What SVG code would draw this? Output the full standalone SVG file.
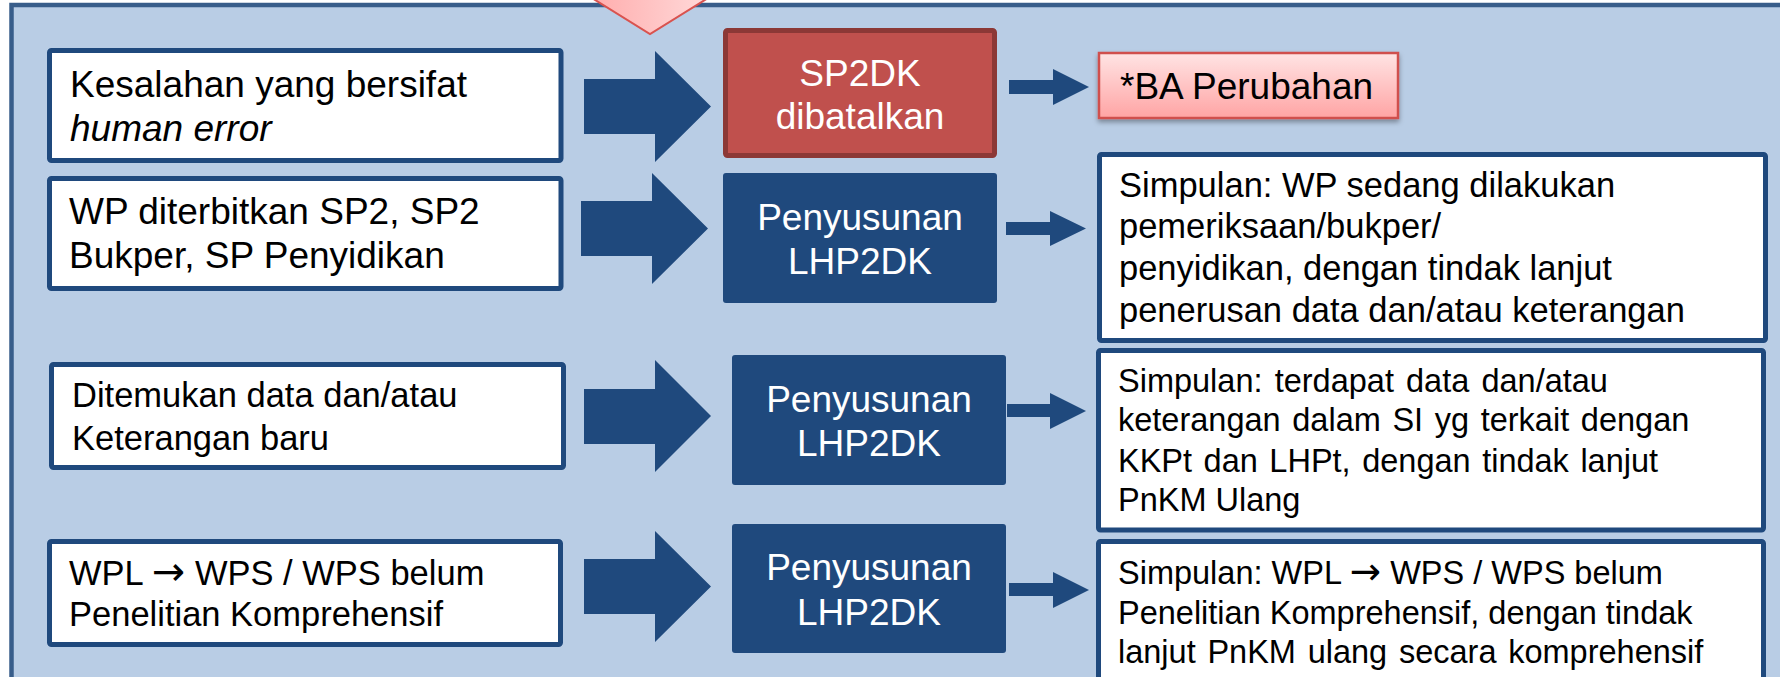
<svg xmlns="http://www.w3.org/2000/svg" width="1780" height="677" viewBox="0 0 1780 677">
  <defs>
    <linearGradient id="pinkV" x1="0" y1="0" x2="0" y2="1">
      <stop offset="0" stop-color="#ffe4e4"/>
      <stop offset="1" stop-color="#ffa4a4"/>
    </linearGradient>
    <linearGradient id="pinkH" x1="0" y1="0" x2="1" y2="0">
      <stop offset="0" stop-color="#ffa8a8"/>
      <stop offset="1" stop-color="#ffdede"/>
    </linearGradient>
    <filter id="shadow" x="-10%" y="-20%" width="120%" height="160%">
      <feDropShadow dx="0" dy="3" stdDeviation="2.5" flood-color="#000" flood-opacity="0.35"/>
    </filter>
  </defs>
  <style>
    .frame { fill: #b9cde5; stroke: #385d8a; stroke-width: 4.5; }
    .wbox { fill: #ffffff; stroke: #1f497d; stroke-width: 5; }
    .dbox { fill: #1f497d; }
    .rbox { fill: #c0504d; stroke: #8c3836; stroke-width: 5; }
    .pbox { fill: url(#pinkV); stroke: #d0504d; stroke-width: 2.5; }
    .arrow { fill: #1f497d; }
    text { font-family: "Liberation Sans", Arial, sans-serif; }
    .dark { fill: #000000; }
    .light { fill: #ffffff; text-anchor: middle; }
    .f37 { font-size: 37px; }
    .f345 { font-size: 34.5px; }
    .f325 { font-size: 32.5px; }
    .sym { font-family: "Noto Sans", "DejaVu Sans", sans-serif; font-size: 1.15em; }
  </style>

  <rect width="1780" height="677" fill="#ffffff"/>

  <!-- outer panel -->
  <rect class="frame" x="11.5" y="5" width="1820" height="720"/>

  <!-- incoming pointer from the step above -->
  <polygon points="579,-10 721,-10 650,34" fill="url(#pinkH)" stroke="#d9534f" stroke-width="2"/>

  <g id="connectors">
    <!-- block arrows: cause to action -->
    <path class="arrow" d="M584,79 H655 V51 L711,106.5 L655,162 V134 H584 Z"/>
    <path class="arrow" d="M581,201 H652 V173 L708,228.5 L652,284 V256 H581 Z"/>
    <path class="arrow" d="M584,389 H655 V360 L711,416 L655,472 V444 H584 Z"/>
    <path class="arrow" d="M584,559 H655 V531 L711,586.5 L655,642 V614 H584 Z"/>
    <!-- small arrows: action to result -->
    <path class="arrow" d="M1009,80 H1053 V69 L1089,87 L1053,105 V94 H1009 Z"/>
    <path class="arrow" d="M1006,222 H1050 V211 L1086,228.5 L1050,246 V235 H1006 Z"/>
    <path class="arrow" d="M1007,404 H1050 V393 L1086,411 L1050,429 V417 H1007 Z"/>
    <path class="arrow" d="M1009,583 H1053 V572 L1089,590 L1053,608 V596 H1009 Z"/>
  </g>

  <!-- causes -->
  <g id="cause-human-error">
    <rect class="wbox" x="49.5" y="50.5" width="511.5" height="110" rx="2"/>
    <text class="dark f37" x="70" y="97">Kesalahan yang bersifat</text>
    <text class="dark f37" x="70" y="141" font-style="italic">human error</text>
  </g>
  <g id="cause-sp2">
    <rect class="wbox" x="49.5" y="178.5" width="511.5" height="110" rx="2"/>
    <text class="dark f37" x="69" y="224">WP diterbitkan SP2, SP2</text>
    <text class="dark f37" x="69" y="268">Bukper, SP Penyidikan</text>
  </g>
  <g id="cause-new-data">
    <rect class="wbox" x="51.5" y="364.5" width="512" height="103" rx="2"/>
    <text class="dark f345" x="72" y="407">Ditemukan data dan/atau</text>
    <text class="dark f345" x="72" y="450">Keterangan baru</text>
  </g>
  <g id="cause-wpl">
    <rect class="wbox" x="49.5" y="541.5" width="511" height="103" rx="2"/>
    <text class="dark f345" x="69" y="585">WPL <tspan class="sym">→</tspan> WPS / WPS belum</text>
    <text class="dark f345" x="69" y="626">Penelitian Komprehensif</text>
  </g>

  <!-- actions -->
  <g id="action-cancel">
    <rect class="rbox" x="725.5" y="30.5" width="269" height="125" rx="2"/>
    <text class="light f37" x="860" y="86">SP2DK</text>
    <text class="light f37" x="860" y="129">dibatalkan</text>
  </g>
  <g id="action-lhp2dk-1">
    <rect class="dbox" x="723" y="173" width="274" height="130" rx="3"/>
    <text class="light f37" x="860" y="230">Penyusunan</text>
    <text class="light f37" x="860" y="274">LHP2DK</text>
  </g>
  <g id="action-lhp2dk-2">
    <rect class="dbox" x="732" y="355" width="274" height="130" rx="3"/>
    <text class="light f37" x="869" y="412">Penyusunan</text>
    <text class="light f37" x="869" y="456">LHP2DK</text>
  </g>
  <g id="action-lhp2dk-3">
    <rect class="dbox" x="732" y="524" width="274" height="129" rx="3"/>
    <text class="light f37" x="869" y="580">Penyusunan</text>
    <text class="light f37" x="869" y="625">LHP2DK</text>
  </g>

  <!-- results -->
  <g id="result-ba">
    <rect class="pbox" x="1099" y="53" width="299" height="65" filter="url(#shadow)"/>
    <text class="dark f37" x="1120" y="99">*BA Perubahan</text>
  </g>
  <g id="result-forward">
    <rect class="wbox" x="1099.5" y="154.5" width="666" height="186" rx="2"/>
    <text class="dark f345" x="1119" y="197">Simpulan: WP sedang dilakukan</text>
    <text class="dark f345" x="1119" y="238">pemeriksaan/bukper/</text>
    <text class="dark f345" x="1119" y="280">penyidikan, dengan tindak lanjut</text>
    <text class="dark f345" x="1119" y="322">penerusan data dan/atau keterangan</text>
  </g>
  <g id="result-pnkm">
    <rect class="wbox" x="1098.5" y="350.5" width="665" height="179.5" rx="2"/>
    <text class="dark f325" x="1118" y="392" word-spacing="3.1">Simpulan: terdapat data dan/atau</text>
    <text class="dark f325" x="1118" y="431" word-spacing="2.6">keterangan dalam SI yg terkait dengan</text>
    <text class="dark f325" x="1118" y="472" word-spacing="2.5">KKPt dan LHPt, dengan tindak lanjut</text>
    <text class="dark f325" x="1118" y="511">PnKM Ulang</text>
  </g>
  <g id="result-pnkm-comprehensive">
    <rect class="wbox" x="1098.5" y="541.5" width="665" height="160" rx="2"/>
    <text class="dark f325" x="1118" y="584">Simpulan: WPL <tspan class="sym">→</tspan> WPS / WPS belum</text>
    <text class="dark f325" x="1118" y="624">Penelitian Komprehensif, dengan tindak</text>
    <text class="dark f325" x="1118" y="663" word-spacing="2.7">lanjut PnKM ulang secara komprehensif</text>
  </g>
</svg>
